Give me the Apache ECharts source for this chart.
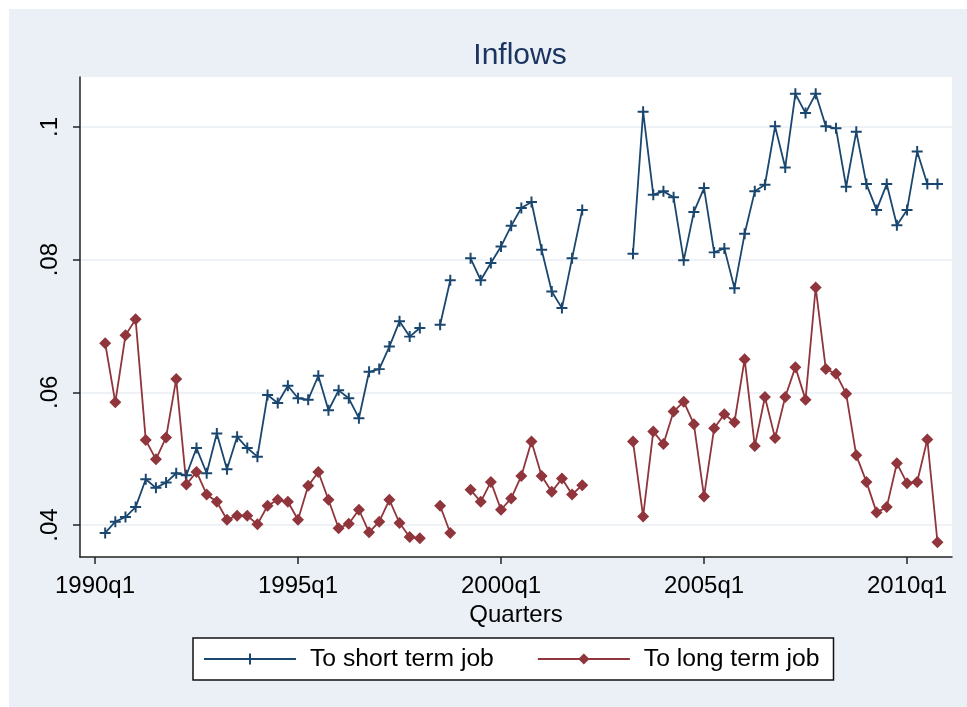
<!DOCTYPE html>
<html>
<head>
<meta charset="utf-8">
<script src="https://cdn.jsdelivr.net/npm/echarts@6/dist/echarts.min.js"></script>
<style>
html,body{margin:0;padding:0;background:#ffffff;}
#chart{width:967px;height:707px;}
</style>
</head>
<body>
<div id="chart"></div>
<script>
// Quarter labels: index 0 = 1990q1 ... index 83 = 2010q4
const quarters = [];
for (let y = 1990; y <= 2010; y++) { for (let q = 1; q <= 4; q++) quarters.push(y + 'q' + q); }

const xTickValues = [0, 20, 40, 60, 80];
const xTickLabels = ['1990q1', '1995q1', '2000q1', '2005q1', '2010q1'];
const yTickValues = [0.04, 0.06, 0.08, 0.1];
const yTickLabels = ['.04', '.06', '.08', '.1'];

// To short term job (null = missing quarter)
const shortTerm = [
  null, .0388, .0405, .0412, .0427, .0469, .0456, .0464, .0478, .0475,
  .0516, .0478, .0538, .0484, .0533, .0516, .0503, .0596, .0584, .0610,
  .0591, .0589, .0625, .0573, .0603, .0591, .0561, .0631, .0635, .0669,
  .0707, .0684, .0697, null, .0702, .0769, null, .0802, .0769, .0795,
  .0820, .0851, .0878, .0887, .0815, .0752, .0727, .0802, .0875, null,
  null, null, null, .0809, .1023, .0898, .0903, .0894, .0799, .0872,
  .0908, .0811, .0817, .0757, .0839, .0903, .0913, .1001, .0939, .1050,
  .1021, .1050, .1001, .0998, .0910, .0993, .0914, .0875, .0914, .0852,
  .0875, .0963, .0914, .0914
];
// To long term job
const longTerm = [
  null, .0674, .0585, .0686, .0710, .0528, .0499, .0532, .0620, .0461,
  .0480, .0446, .0435, .0408, .0414, .0414, .0401, .0429, .0438, .0435,
  .0408, .0459, .0480, .0438, .0395, .0402, .0423, .0389, .0405, .0438,
  .0403, .0382, .0380, null, .0429, .0388, null, .0453, .0435, .0465,
  .0423, .0440, .0474, .0526, .0474, .0450, .0470, .0446, .0460, null,
  null, null, null, .0526, .0413, .0541, .0522, .0571, .0586, .0552,
  .0443, .0546, .0567, .0555, .0650, .0519, .0593, .0531, .0593, .0638,
  .0589, .0758, .0635, .0628, .0598, .0505, .0465, .0419, .0427, .0493,
  .0463, .0465, .0529, .0374
];

function toPairs(arr) {
  return arr.map((v, i) => [i, v == null ? '-' : v]);
}

const BLUE = '#1a476f';
const RED = '#90353b';
const BG = '#eaf0f5';
const FONT = "'Liberation Sans', Arial, sans-serif";
const plusPath = 'path://M4.1,0H5.9V4.1H10V5.9H5.9V10H4.1V5.9H0V4.1H4.1Z';

const chart = echarts.init(document.getElementById('chart'), null, {renderer: 'canvas'});
chart.setOption({
  animation: false,
  backgroundColor: '#ffffff',
  graphic: [{
    type: 'rect', z: -100, silent: true,
    shape: {x: 9, y: 9, width: 958, height: 698},
    style: {fill: BG}
  }],
  title: {
    text: 'Inflows',
    left: 515, top: 36, textAlign: 'center',
    textStyle: {fontFamily: FONT, fontSize: 30, fontWeight: 'normal', color: '#1c3460'}
  },
  grid: {
    left: 80, right: 15, top: 77, bottom: 150,
    show: true, backgroundColor: '#ffffff', borderWidth: 0
  },
  legend: {
    left: 193, top: 638,
    padding: [7, 14, 7, 10],
    backgroundColor: '#ffffff', borderColor: '#111', borderWidth: 1.5,
    itemWidth: 92, itemHeight: 14, itemGap: 43,
    textStyle: {fontFamily: FONT, fontSize: 24.7, color: '#000', lineHeight: 28, padding: [0, 0, 0, 9]},
    data: ['To short term job', 'To long term job']
  },
  xAxis: {
    type: 'value', min: -1.48, max: 84.43,
    name: 'Quarters', nameLocation: 'middle', nameGap: 37,
    nameTextStyle: {fontFamily: FONT, fontSize: 24, color: '#000'},
    axisLine: {show: true, onZero: false, lineStyle: {color: '#222', width: 1.5}},
    axisTick: {show: true, length: 7, lineStyle: {color: '#222', width: 1.5}, customValues: xTickValues},
    axisLabel: {
      fontFamily: FONT, fontSize: 24, color: '#000', margin: 17,
      customValues: xTickValues,
      formatter: v => { const i = xTickValues.indexOf(Math.round(v)); return i >= 0 ? xTickLabels[i] : ''; }
    },
    splitLine: {show: false}
  },
  yAxis: {
    type: 'value', min: 0.035176, max: 0.10754,
    axisLine: {show: true, onZero: false, lineStyle: {color: '#222', width: 1.5}},
    axisTick: {show: true, length: 7, lineStyle: {color: '#222', width: 1.5}, customValues: yTickValues},
    axisLabel: {
      fontFamily: FONT, fontSize: 24, color: '#000', margin: 18, rotate: 90,
      customValues: yTickValues,
      formatter: v => { const i = yTickValues.findIndex(t => Math.abs(t - v) < 1e-6); return i >= 0 ? yTickLabels[i] : ''; }
    },
    splitLine: {show: true, lineStyle: {color: '#e8eef3', width: 1.5}}
  },
  series: [
    {
      name: 'To short term job', type: 'line',
      data: toPairs(shortTerm),
      symbol: plusPath, symbolSize: 11, showAllSymbol: true,
      connectNulls: false,
      lineStyle: {color: BLUE, width: 1.8},
      itemStyle: {color: BLUE},
      emphasis: {disabled: true}
    },
    {
      name: 'To long term job', type: 'line',
      data: toPairs(longTerm),
      symbol: 'diamond', symbolSize: 12, showAllSymbol: true,
      connectNulls: false,
      lineStyle: {color: RED, width: 1.8},
      itemStyle: {color: RED},
      emphasis: {disabled: true}
    }
  ]
});
</script>
</body>
</html>
